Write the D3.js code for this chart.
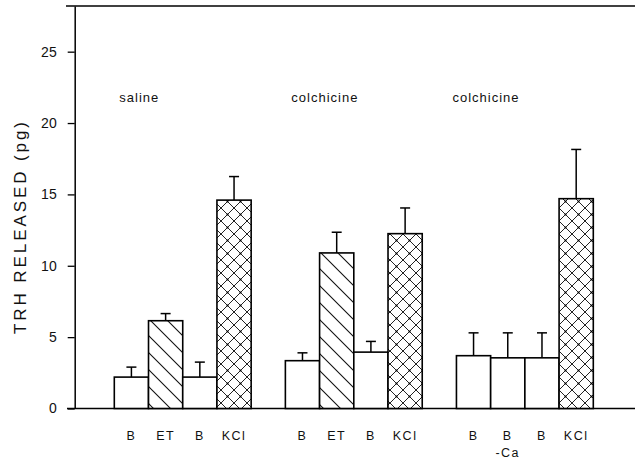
<!DOCTYPE html>
<html>
<head>
<meta charset="utf-8">
<script src="https://cdn.jsdelivr.net/npm/d3@7"></script>
<style>
  body { margin: 0; background: #fff; }
  text { font-family: "Liberation Sans", Arial, sans-serif; fill: #111; }
</style>
</head>
<body>
<div id="chart"></div>
<script>
// data
const groupNames = ["saline", "colchicine", "colchicine"]
const barLabels = [["B", "ET", "B", "KCl"], ["B", "ET", "B", "KCl"], ["B", "B", "B", "KCl"]]
const subLabels = [["", "", "", ""], ["", "", "", ""], ["", "-Ca", "", ""]]
const salineMeans = [2.2, 6.15, 2.2, 14.6]
const salineErr = [0.7, 0.5, 1.05, 1.65]
const colchMeans = [3.35, 10.9, 3.95, 12.25]
const colchErr = [0.55, 1.45, 0.75, 1.8]
const colchCaMeans = [3.7, 3.55, 3.55, 14.7]
const colchCaErr = [1.6, 1.75, 1.75, 3.45]
const yTicks = [0, 5, 10, 15, 20, 25]
const yLabel = "TRH RELEASED (pg)"

const means = [salineMeans, colchMeans, colchCaMeans]
const errs = [salineErr, colchErr, colchCaErr]

const W = 635, H = 460
const axisX = 74.7, baseY = 408.5, topY = 6

const svg = d3.select("#chart").append("svg")
    .attr("width", W)
    .attr("height", H)

// patterns
const defs = svg.append("defs")
const hatch = defs.append("pattern")
    .attr("id", "hatch")
    .attr("patternUnits", "userSpaceOnUse")
    .attr("width", 17).attr("height", 17)
hatch.append("rect").attr("width", 17).attr("height", 17).attr("fill", "#fff")
hatch.append("path")
    .attr("d", "M-2,-2 L19,19 M-10,7 L10,27 M7,-10 L27,10")
    .attr("stroke", "#111").attr("stroke-width", 1.1)

const cross = defs.append("pattern")
    .attr("id", "cross")
    .attr("patternUnits", "userSpaceOnUse")
    .attr("width", 13).attr("height", 13)
cross.append("rect").attr("width", 13).attr("height", 13).attr("fill", "#fff")
cross.append("path")
    .attr("d", "M-1,-1 L14,14 M-1,14 L14,-1")
    .attr("stroke", "#222").attr("stroke-width", 1)
cross.append("circle").attr("cx", 6.5).attr("cy", 6.5).attr("r", 1).attr("fill", "#000")

const fillFor = lab => lab === "ET" ? "url(#hatch)" : lab === "KCl" ? "url(#cross)" : "#fff"

// flat list of bars
const bars = []
const slots = []
means.forEach((arr, g) => {
    arr.forEach((v, i) => {
        const key = `${g}-${i}`
        slots.push(key)
        bars.push({ key, g, i, value: v, err: errs[g][i], label: barLabels[g][i], sub: subLabels[g][i] })
    })
    if (g < means.length - 1) slots.push(`gap${g}`)
})

const x = d3.scaleBand().domain(slots).range([114.3, 593.3]).padding(0)
const y = d3.scaleLinear().domain([0, 28.2]).range([baseY, topY])

// frame lines
svg.append("line")
    .attr("x1", 66).attr("x2", W)
    .attr("y1", topY).attr("y2", topY)
    .attr("stroke", "#000").attr("stroke-width", 1.5)
svg.append("line")
    .attr("x1", 67).attr("x2", W)
    .attr("y1", baseY).attr("y2", baseY)
    .attr("stroke", "#000").attr("stroke-width", 1.5)

// y axis
const yAxis = svg.append("g")
    .attr("transform", `translate(${axisX},0)`)
    .call(d3.axisLeft(y).tickValues(yTicks).tickSize(7).tickSizeOuter(0).tickPadding(11))
yAxis.select(".domain").attr("stroke", "#000").attr("stroke-width", 1.5)
yAxis.selectAll(".tick line").attr("stroke", "#000").attr("stroke-width", 1.3)
yAxis.selectAll(".tick text")
    .style("font-family", "'Liberation Sans', Arial, sans-serif")
    .attr("font-size", 14).attr("fill", "#222")

svg.append("text")
    .attr("transform", `translate(26,228) rotate(-90)`)
    .attr("text-anchor", "middle")
    .attr("font-size", 17)
    .attr("textLength", 212)
    .attr("lengthAdjust", "spacing")
    .attr("fill", "#222")
    .text(yLabel)

// bars
const bw = x.bandwidth()
svg.append("g").selectAll("rect")
    .data(bars)
    .enter()
    .append("rect")
    .attr("x", d => x(d.key))
    .attr("y", d => y(d.value))
    .attr("width", bw)
    .attr("height", d => baseY - y(d.value))
    .attr("fill", d => fillFor(d.label))
    .attr("stroke", "#000")
    .attr("stroke-width", 1.6)

// error bars
const eb = svg.append("g").attr("stroke", "#000").attr("stroke-width", 1.5)
eb.selectAll("line.stem")
    .data(bars)
    .enter()
    .append("line")
    .attr("class", "stem")
    .attr("x1", d => x(d.key) + bw / 2).attr("x2", d => x(d.key) + bw / 2)
    .attr("y1", d => y(d.value)).attr("y2", d => y(d.value + d.err))
eb.selectAll("line.cap")
    .data(bars)
    .enter()
    .append("line")
    .attr("class", "cap")
    .attr("x1", d => x(d.key) + bw / 2 - 5).attr("x2", d => x(d.key) + bw / 2 + 5)
    .attr("y1", d => y(d.value + d.err)).attr("y2", d => y(d.value + d.err))

// category labels
svg.append("g").selectAll("text")
    .data(bars)
    .enter()
    .append("text")
    .attr("x", d => x(d.key) + bw / 2)
    .attr("y", 440)
    .attr("text-anchor", "middle")
    .attr("font-size", 12.5)
    .attr("letter-spacing", 1.5)
    .text(d => d.label)

svg.append("g").selectAll("text")
    .data(bars.filter(d => d.sub))
    .enter()
    .append("text")
    .attr("x", d => x(d.key) + bw / 2)
    .attr("y", 457)
    .attr("text-anchor", "middle")
    .attr("font-size", 12.5)
    .attr("letter-spacing", 1.5)
    .text(d => d.sub)

// group labels
svg.append("g").selectAll("text")
    .data(groupNames)
    .enter()
    .append("text")
    .attr("x", (d, g) => x(`${g}-0`) + (g === 2 ? -4 : g === 0 ? 5 : 6))
    .attr("y", 102)
    .attr("font-size", 13)
    .attr("letter-spacing", 1)
    .text(d => d)
</script>
</body>
</html>
